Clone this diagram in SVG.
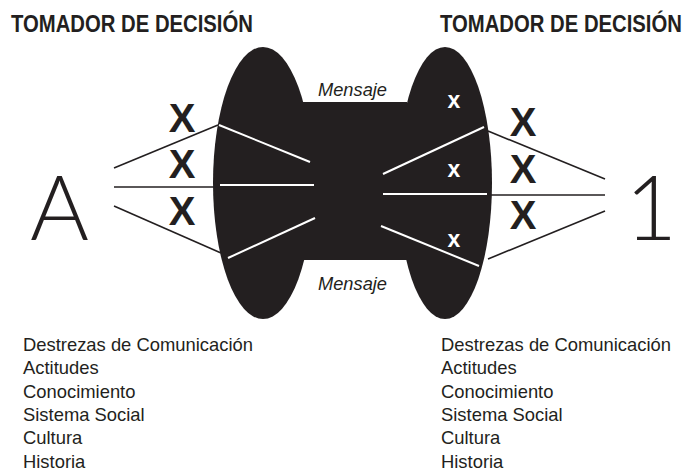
<svg xmlns="http://www.w3.org/2000/svg" width="689" height="472" viewBox="0 0 689 472">
<style>
.title{font-family:"Liberation Sans",Arial,sans-serif;font-weight:bold;font-size:20.3px;fill:#231f20}
.list{font-family:"Liberation Sans",Arial,sans-serif;font-size:18.4px;fill:#231f20}
.msg{font-family:"Liberation Sans",Arial,sans-serif;font-style:italic;font-size:18px;fill:#231f20}
.bigx{font-family:"Liberation Sans",Arial,sans-serif;font-weight:bold;font-size:40px;fill:#231f20;text-anchor:middle}
.smx{font-family:"Liberation Sans",Arial,sans-serif;font-weight:bold;font-size:23px;fill:#ffffff;text-anchor:middle}
.big{font-family:"Lato","Liberation Sans",sans-serif;font-weight:300;font-size:90px;fill:#231f20}
.blk{stroke:#231f20;stroke-width:1.6;fill:none}
.wht{stroke:#ffffff;stroke-width:2;fill:none}
.shape{fill:#231f20}
</style>
<rect width="689" height="472" fill="#ffffff"/>
<g id="left-title" transform="translate(11,32) scale(1,1.15)"><text class="title" x="0" y="0">TOMADOR DE DECISIÓN</text></g>
<g id="right-title" transform="translate(440,32) scale(1,1.15)"><text class="title" x="0" y="0">TOMADOR DE DECISIÓN</text></g>
<g id="channel">
<ellipse class="shape" cx="263" cy="183" rx="50" ry="136"/>
<ellipse class="shape" cx="445" cy="183" rx="47" ry="136"/>
<rect class="shape" x="295" y="102" width="112" height="158"/>
</g>
<g id="mensaje-top"><text class="msg" x="318" y="96" textLength="69" lengthAdjust="spacingAndGlyphs">Mensaje</text></g>
<g id="mensaje-bottom"><text class="msg" x="318" y="290" textLength="69" lengthAdjust="spacingAndGlyphs">Mensaje</text></g>
<g id="connectors">
<line class="blk" x1="114" y1="168" x2="218" y2="125"/>
<line class="blk" x1="114" y1="187" x2="218" y2="187"/>
<line class="blk" x1="114" y1="206" x2="221" y2="253"/>
<line class="blk" x1="488" y1="131" x2="605" y2="179"/>
<line class="blk" x1="491" y1="195" x2="605" y2="195"/>
<line class="blk" x1="488" y1="259" x2="605" y2="211"/>
<line class="wht" x1="219" y1="125" x2="310" y2="162"/>
<line class="wht" x1="220" y1="185" x2="314" y2="185"/>
<line class="wht" x1="228" y1="258" x2="315" y2="218"/>
<line class="wht" x1="383" y1="174" x2="484" y2="127"/>
<line class="wht" x1="383" y1="194" x2="487" y2="194"/>
<line class="wht" x1="381" y1="226" x2="479" y2="266"/>
</g>
<g id="node-A"><text class="big" x="30" y="240">A</text></g>
<g id="node-1"><text class="big" x="625" y="240">1</text></g>
<g id="left-x">
<text class="bigx" x="182" y="132">X</text>
<text class="bigx" x="182" y="178">X</text>
<text class="bigx" x="182" y="225">X</text>
</g>
<g id="right-x">
<text class="bigx" x="523" y="136">X</text>
<text class="bigx" x="523" y="183">X</text>
<text class="bigx" x="523" y="229">X</text>
</g>
<g id="inner-x">
<text class="smx" x="454" y="108">x</text>
<text class="smx" x="454" y="177">x</text>
<text class="smx" x="454" y="247">x</text>
</g>
<g id="left-list" class="list">
<text x="23" y="351">Destrezas de Comunicación</text>
<text x="23" y="374">Actitudes</text>
<text x="23" y="398">Conocimiento</text>
<text x="23" y="421">Sistema Social</text>
<text x="23" y="444">Cultura</text>
<text x="23" y="468">Historia</text>
</g>
<g id="right-list" class="list">
<text x="441" y="351">Destrezas de Comunicación</text>
<text x="441" y="374">Actitudes</text>
<text x="441" y="398">Conocimiento</text>
<text x="441" y="421">Sistema Social</text>
<text x="441" y="444">Cultura</text>
<text x="441" y="468">Historia</text>
</g>
</svg>
